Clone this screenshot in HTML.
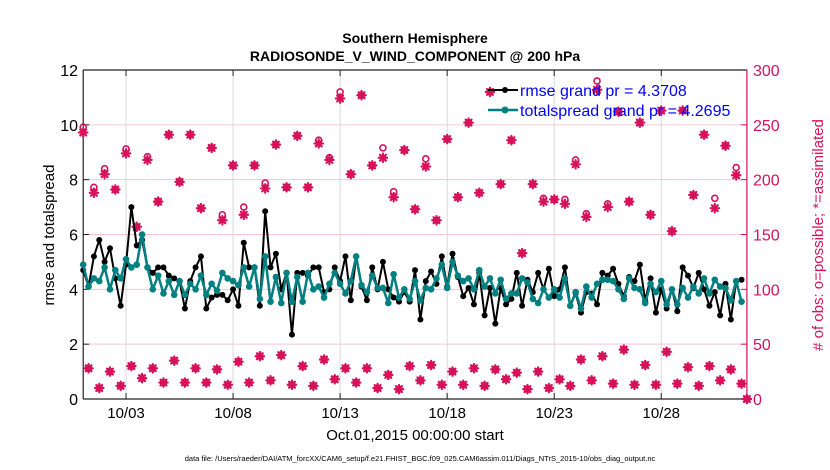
<!DOCTYPE html>
<html><head><meta charset="utf-8"><style>
html,body{margin:0;padding:0;background:#fff;}
svg{display:block;font-family:"Liberation Sans",Arial,sans-serif;}
</style></head><body>
<svg id="chart" width="830" height="470" viewBox="0 0 830 470">
<text x="415" y="43" text-anchor="middle" font-size="14" font-weight="bold">Southern Hemisphere</text>
<text x="415" y="61" text-anchor="middle" font-size="14" font-weight="bold">RADIOSONDE_V_WIND_COMPONENT @ 200 hPa</text>
<g id="grid"></g>
<g id="axes"></g>
<g id="obs"></g>
<g id="lines"></g>
<g id="legend">
  <g>
    <line x1="488" y1="90" x2="518" y2="90" stroke="#000" stroke-width="2"/>
    <circle cx="505" cy="90" r="3" fill="#000"/>
    <text x="520" y="96" font-size="16" fill="#0000ff">rmse grand pr = 4.3708</text>
  </g>
  <g>
    <line x1="488" y1="110" x2="518" y2="110" stroke="#008080" stroke-width="2.5"/>
    <circle cx="505" cy="110" r="3.5" fill="#008080"/>
    <text x="520" y="116" font-size="16" fill="#0000ff">totalspread grand pr = 4.2695</text>
  </g>
</g>
<text transform="translate(54,235) rotate(-90)" text-anchor="middle" font-size="15">rmse and totalspread</text>
<text transform="translate(823,235) rotate(-90)" text-anchor="middle" font-size="15" fill="#d6125a"># of obs: o=possible; *=assimilated</text>
<text x="415" y="440" text-anchor="middle" font-size="15">Oct.01,2015 00:00:00 start</text>
<text x="420" y="461" text-anchor="middle" font-size="7.5">data file: /Users/raeder/DAI/ATM_forcXX/CAM6_setup/f.e21.FHIST_BGC.f09_025.CAM6assim.011/Diags_NTrS_2015-10/obs_diag_output.nc</text>
</svg>
<script>
const xTickDays = [2, 7, 12, 17, 22, 27];
const xTickLabels = ["10/03", "10/08", "10/13", "10/18", "10/23", "10/28"];
const yLeftTicks = [0, 2, 4, 6, 8, 10, 12];
const yRightTicks = [0, 50, 100, 150, 200, 250, 300];
const rmse = [4.7,4.1,5.2,5.8,5.0,5.5,4.4,3.4,4.9,7.0,5.6,5.8,4.8,4.6,4.8,4.8,4.5,4.4,4.3,3.3,4.3,4.8,5.2,3.3,3.7,3.8,3.8,3.6,4.0,3.4,5.7,4.8,4.8,3.4,6.85,4.8,5.3,4.0,4.6,2.35,4.6,4.6,4.5,4.8,4.8,3.9,4.0,4.8,4.3,5.2,3.6,5.2,4.1,3.6,4.8,4.0,5.0,4.0,3.7,3.55,3.9,3.55,4.7,2.9,4.3,4.65,4.2,5.2,4.1,5.3,4.45,3.75,4.05,3.45,4.6,3.05,4.05,2.75,4.05,3.45,3.65,4.6,3.4,4.35,3.9,4.6,4.0,4.75,3.75,4.0,4.8,3.4,3.85,3.15,3.9,3.85,3.45,4.6,4.5,4.75,4.2,3.75,4.45,4.3,4.9,3.6,4.4,3.15,4.0,3.3,4.0,3.2,4.8,4.5,4.05,4.6,4.0,3.4,3.9,3.05,4.2,2.9,4.3,4.35,null];
const spread = [4.9,4.1,4.4,4.3,4.8,4.0,4.7,4.4,5.1,4.8,4.9,6.0,4.8,4.0,4.5,3.85,4.3,3.8,4.3,3.8,4.2,4.0,4.5,3.8,4.2,3.95,4.6,4.4,4.3,4.15,4.8,4.1,4.8,3.65,5.2,3.55,4.45,3.5,4.6,3.55,4.45,3.55,4.6,4.0,4.1,3.7,4.2,4.6,4.2,3.85,4.3,5.2,4.15,3.9,4.5,4.05,4.05,3.5,4.55,3.7,4.0,3.65,4.3,3.6,4.05,4.0,4.4,4.9,4.05,5.0,4.5,4.3,4.4,4.0,4.7,4.1,4.4,3.85,4.35,3.65,3.85,3.85,4.4,4.25,3.65,3.5,4.0,3.7,4.0,3.7,4.4,3.4,3.9,3.3,4.1,3.7,4.2,4.35,4.35,4.3,4.0,3.65,4.4,4.05,4.0,3.5,4.2,3.9,4.3,3.45,4.0,3.45,4.05,3.7,4.1,3.85,4.4,3.85,4.35,4.1,4.05,3.6,4.3,3.55,null];
const obsUsed = [243,28,188,10,205,25,191,12,224,30,157,19,218,28,180,15,241,35,198,15,241,28,174,15,229,27,163,13,213,34,168,15,213,39,192,17,232,40,193,13,240,30,193,12,233,36,218,18,274,28,205,15,277,28,213,10,220,22,184,9,227,30,173,17,212,31,163,13,237,25,184,13,252,28,188,12,280,27,196,18,236,24,133,9,196,25,180,10,182,18,178,12,214,36,166,17,282,39,175,14,262,45,180,13,252,31,168,13,263,43,153,14,263,29,186,12,241,30,174,17,231,27,204,14,0];
const obsPossible = [248,28,193,10,210,25,191,12,228,30,157,19,221,28,180,15,241,35,198,15,241,28,174,15,229,27,168,13,213,34,175,15,213,39,197,17,232,40,193,13,240,30,193,12,236,36,220,18,280,28,205,15,277,28,213,10,229,22,189,9,227,30,173,17,219,31,163,13,237,25,184,13,252,28,188,12,280,27,196,18,236,24,133,9,196,25,183,10,182,18,182,12,218,36,169,17,290,39,178,14,262,45,180,13,252,31,168,13,263,43,153,14,263,29,186,12,241,30,183,17,231,27,211,14,0];

const NS = "http://www.w3.org/2000/svg";
const PL = 83.2, PR = 746.9, PT = 70, PB = 399;
const XMIN = 0, XMAX = 31;
function xs(d){ return PL + (d - XMIN) / (XMAX - XMIN) * (PR - PL); }
function yl(v){ return PB - v / 12 * (PB - PT); }
function yr(v){ return PB - v / 300 * (PB - PT); }
function dayOf(i){ return i * 0.25; }
function mk(tag, attrs, parent){ const e = document.createElementNS(NS, tag); for (const k in attrs) e.setAttribute(k, attrs[k]); parent.appendChild(e); return e; }

const grid = document.getElementById('grid');
const axes = document.getElementById('axes');
const obsG = document.getElementById('obs');
const linesG = document.getElementById('lines');
const RED = "#d6125a";

yRightTicks.forEach(v => {
  if (v === 0 || v === 300) return;
  const g = mk('line', {x1: PL, x2: PR, y1: yr(v), y2: yr(v), stroke: "#f3c6d6", 'stroke-width': 1}, grid);
  
  
});
xTickDays.forEach((d, k) => {
  const g = mk('line', {x1: xs(d), x2: xs(d), y1: PT, y2: PB, stroke: "#d8d8d8", 'stroke-width': 1}, grid);
  
  
  const t = mk('text', {x: xs(d), y: 418, 'text-anchor': 'middle', 'font-size': 15}, axes);
  t.textContent = xTickLabels[k];
  
  
  mk('line', {x1: xs(d), x2: xs(d), y1: PB, y2: PB - 6, stroke: "#222"}, axes);
  mk('line', {x1: xs(d), x2: xs(d), y1: PT, y2: PT + 6, stroke: "#222"}, axes);
});
yLeftTicks.forEach(v => {
  const t = mk('text', {x: 78, y: yl(v) + 6, 'text-anchor': 'end', 'font-size': 16}, axes);
  t.textContent = v;
  
  
  mk('line', {x1: PL, x2: PL + 6, y1: yl(v), y2: yl(v), stroke: "#222"}, axes);
});
yRightTicks.forEach(v => {
  const t = mk('text', {x: 753, y: yr(v) + 6, 'text-anchor': 'start', 'font-size': 16, fill: RED}, axes);
  t.textContent = v;
  
  
  mk('line', {x1: PR - 6, x2: PR, y1: yr(v), y2: yr(v), stroke: RED}, axes);
});
mk('line', {x1: PL, x2: PR, y1: PT, y2: PT, stroke: "#222", 'stroke-width': 1.2}, axes);
mk('line', {x1: PL, x2: PR, y1: PB, y2: PB, stroke: "#222", 'stroke-width': 1.2}, axes);
mk('line', {x1: PL, x2: PL, y1: PT, y2: PB, stroke: "#222", 'stroke-width': 1.2}, axes);
mk('line', {x1: PR, x2: PR, y1: PT, y2: PB, stroke: RED, 'stroke-width': 1.2}, axes);

obsPossible.forEach((v, i) => {
  const c = mk('circle', {cx: xs(dayOf(i)), cy: yr(v), r: 3, fill: 'none', stroke: RED, 'stroke-width': 1.6}, obsG);
  
  
});
obsUsed.forEach((v, i) => {
  const x = xs(dayOf(i)), y = yr(v), s = 4.2;
  const g = mk('g', {stroke: RED, 'stroke-width': 2.2, 'stroke-linecap': 'round'}, obsG);
  
  
  mk('line', {x1: x - s, x2: x + s, y1: y, y2: y}, g);
  mk('line', {x1: x, x2: x, y1: y - s, y2: y + s}, g);
  mk('line', {x1: x - s * 0.7, x2: x + s * 0.7, y1: y - s * 0.7, y2: y + s * 0.7}, g);
  mk('line', {x1: x - s * 0.7, x2: x + s * 0.7, y1: y + s * 0.7, y2: y - s * 0.7}, g);
});

function drawSeries(vals, color, w, r, name){
  let d = "";
  vals.forEach((v, i) => { if (v === null) return; d += (d ? "L" : "M") + xs(dayOf(i)).toFixed(2) + "," + yl(v).toFixed(2); });
  const p = mk('path', {d: d, fill: 'none', stroke: color, 'stroke-width': w, 'stroke-linejoin': 'round'}, linesG);
  
  
  vals.forEach((v, i) => {
    if (v === null) return;
    const c = mk('circle', {cx: xs(dayOf(i)), cy: yl(v), r: r, fill: color}, linesG);
    
    
  });
}
drawSeries(rmse, "#000000", 2, 3, 'rmse');
drawSeries(spread, "#008080", 2.5, 3.3, 'totalspread');
</script>
</body></html>
